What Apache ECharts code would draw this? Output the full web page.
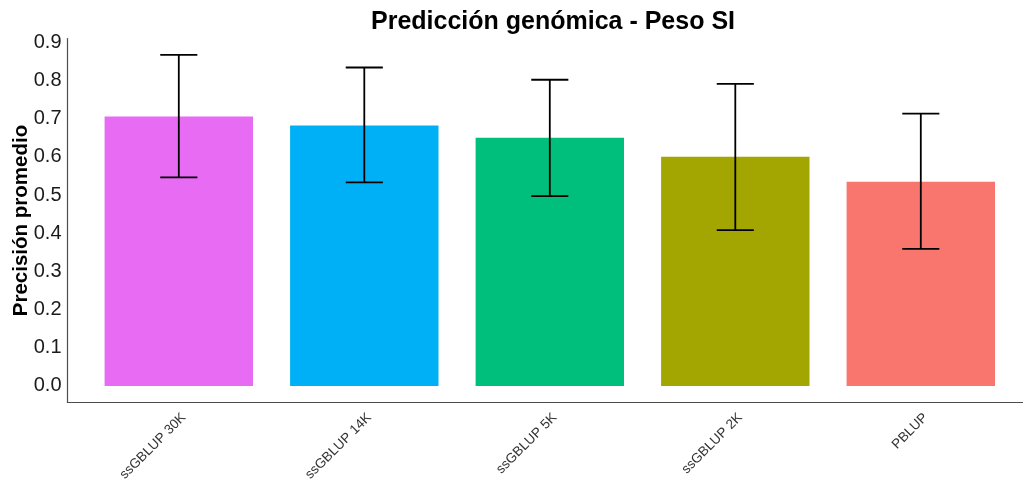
<!DOCTYPE html>
<html>
<head>
<meta charset="utf-8">
<title>Predicción genómica - Peso SI</title>
<script src="https://cdn.jsdelivr.net/npm/echarts@6/dist/echarts.min.js"></script>
<style>
  html, body { margin: 0; padding: 0; background: #fff; }
  #chart { width: 1023px; height: 481px; }
</style>
</head>
<body>
<div id="chart"></div>
<script>
// Mean prediction accuracy per model, with lower/upper error-bar limits
const categories = ['ssGBLUP 30K', 'ssGBLUP 14K', 'ssGBLUP 5K', 'ssGBLUP 2K', 'PBLUP'];
const means = [0.706, 0.682, 0.650, 0.600, 0.535];
const lower = [0.546, 0.533, 0.497, 0.408, 0.359];
const upper = [0.867, 0.834, 0.802, 0.791, 0.713];
const colors = ['#E76BF3', '#00B0F6', '#00BF7D', '#A3A500', '#F8766D'];
const yTicks = [0, 0.1, 0.2, 0.3, 0.4, 0.5, 0.6, 0.7, 0.8, 0.9];

const positions = categories.map((c, i) => i + 1);
const barData = positions.map((x, i) => [x, means[i]]);
const errData = positions.map((x, i) => [x, lower[i], upper[i]]);

const chart = echarts.init(document.getElementById('chart'), null, { renderer: 'canvas' });

const font = 'Liberation Sans, Arial, Helvetica, sans-serif';

chart.setOption({
  animation: false,
  backgroundColor: '#ffffff',
  title: {
    text: 'Predicción genómica - Peso SI',
    left: 548,
    textAlign: 'center',
    top: 5,
    textStyle: { fontFamily: font, fontSize: 25, fontWeight: 'bold', color: '#000' }
  },
  // panel spans 0.4..5.6 category units; the right end runs past the canvas edge
  grid: {
    left: 67.5, top: 38.5, bottom: 78.5, width: 964.6,
    containLabel: false,
    outerBoundsMode: 'none'
  },
  xAxis: {
    type: 'value',
    min: 0.4,
    max: 5.6,
    splitLine: { show: false },
    axisTick: { show: false },
    axisLine: { show: true, onZero: false, lineStyle: { color: '#4d4d4d', width: 1.2 } },
    axisLabel: {
      customValues: positions,
      formatter: v => categories[Math.round(v) - 1],
      rotate: 45,
      margin: 8,
      verticalAlign: 'top',
      fontFamily: font,
      fontSize: 13.5,
      color: '#333'
    }
  },
  yAxis: {
    type: 'value',
    min: -0.0434,
    max: 0.91,
    name: 'Precisión promedio',
    nameLocation: 'middle',
    nameRotate: 90,
    nameGap: 36,
    nameMoveOverlap: false,
    nameTextStyle: { fontFamily: font, fontSize: 20.5, fontWeight: 'bold', color: '#000' },
    splitLine: { show: false },
    axisTick: { show: false },
    axisLine: { show: true, onZero: false, lineStyle: { color: '#4d4d4d', width: 1.2 } },
    axisLabel: {
      customValues: yTicks,
      formatter: v => v.toFixed(1),
      margin: 6,
      fontFamily: font,
      fontSize: 20,
      color: '#1a1a1a'
    }
  },
  series: [
    {
      // bars: width 0.8 of a category unit, from 0 to the mean
      type: 'custom',
      data: barData,
      renderItem: function (params, api) {
        const x = api.value(0);
        const y = api.value(1);
        const p1 = api.coord([x - 0.4, y]);
        const p2 = api.coord([x + 0.4, 0]);
        return {
          type: 'rect',
          shape: { x: p1[0], y: p1[1], width: p2[0] - p1[0], height: p2[1] - p1[1] },
          style: { fill: colors[params.dataIndex] }
        };
      },
      z: 2
    },
    {
      // error bars with caps 0.2 units wide
      type: 'custom',
      data: errData,
      renderItem: function (params, api) {
        const x = api.value(0);
        const lo = api.coord([x, api.value(1)]);
        const hi = api.coord([x, api.value(2)]);
        const half = api.size([0.1, 0])[0];
        const style = { stroke: '#000', lineWidth: 1.8 };
        return {
          type: 'group',
          children: [
            { type: 'line', shape: { x1: hi[0], y1: hi[1], x2: lo[0], y2: lo[1] }, style },
            { type: 'line', shape: { x1: hi[0] - half, y1: hi[1], x2: hi[0] + half, y2: hi[1] }, style },
            { type: 'line', shape: { x1: lo[0] - half, y1: lo[1], x2: lo[0] + half, y2: lo[1] }, style }
          ]
        };
      },
      z: 3
    }
  ]
});
</script>
</body>
</html>
